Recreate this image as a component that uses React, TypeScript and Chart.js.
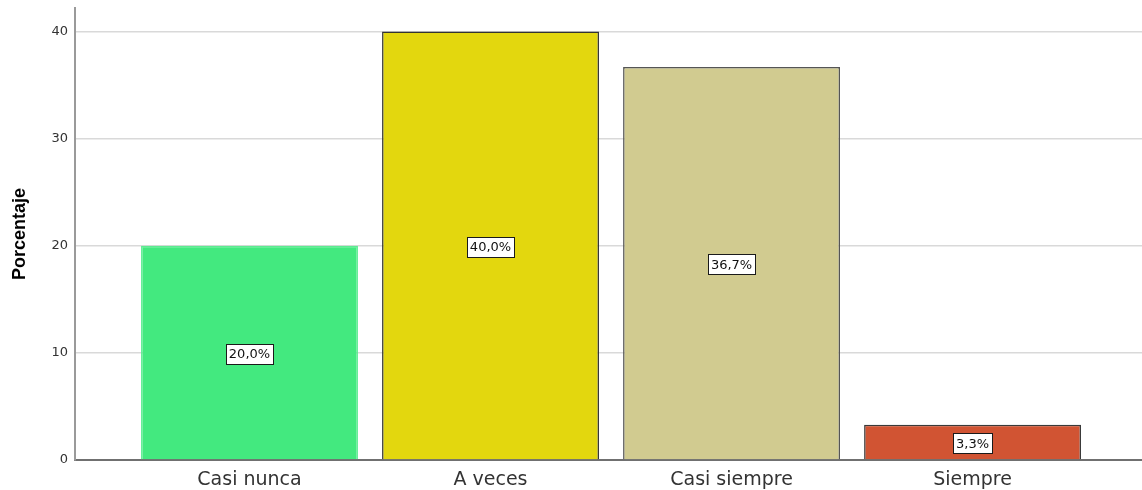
import React, { useEffect, useRef } from "react";
import { Chart, registerables } from "chart.js";

Chart.register(...registerables);

const categories = ["Casi nunca", "A veces", "Casi siempre", "Siempre"];
const percentages = [20.0, 40.0, 36.7, 3.3];
const valueLabels = ["20,0%", "40,0%", "36,7%", "3,3%"];
const barColors = ["#43E97F", "#E3D70E", "#D1CB90", "#D15433"];
const barBorderColors = ["#5CEC91", "#333333", "#555555", "#3a3a3a"];
const yTicks = [0, 10, 20, 30, 40];
const yTitle = "Porcentaje";

const labelPlugin = {
  id: "valueLabelsAndTitle",
  afterDatasetsDraw(chart: any) {
    const ctx = chart.ctx as CanvasRenderingContext2D;
    const meta = chart.getDatasetMeta(0);
    const ys = chart.scales.y;
    ctx.save();
    ctx.font = '13px "DejaVu Sans"';
    meta.data.forEach((el: any, i: number) => {
      const txt = valueLabels[i];
      const x = el.x;
      const y = ys.getPixelForValue(percentages[i] / 2) + 1;
      const w = Math.round(ctx.measureText(txt).width + 6);
      const h = 20;
      const left = Math.round(x - w / 2) + 0.5;
      const top = Math.round(y - h / 2) + 0.5;
      ctx.fillStyle = "#ffffff";
      ctx.fillRect(left, top, w, h);
      ctx.strokeStyle = "#1a1a1a";
      ctx.lineWidth = 1;
      ctx.strokeRect(left, top, w, h);
      ctx.fillStyle = "#111111";
      ctx.textAlign = "center";
      ctx.textBaseline = "middle";
      ctx.fillText(txt, x, y + 1);
    });
    ctx.restore();

    const area = chart.chartArea;
    ctx.save();
    ctx.translate(20, (area.top + area.bottom) / 2);
    ctx.rotate(-Math.PI / 2);
    ctx.font = 'bold 18px "Liberation Sans", Arial, sans-serif';
    ctx.fillStyle = "#000000";
    ctx.textAlign = "center";
    ctx.textBaseline = "middle";
    ctx.fillText(yTitle, 0, 0);
    ctx.restore();
  },
};

export default function App() {
  const canvasRef = useRef<HTMLCanvasElement | null>(null);

  useEffect(() => {
    document.body.style.margin = "0";
    const canvas = canvasRef.current;
    if (!canvas) return;
    const chart = new Chart(canvas, {
      type: "bar",
      data: {
        datasets: [
          {
            data: categories.map((_, i) => ({ x: i, y: percentages[i] })),
            backgroundColor: barColors,
            borderColor: barBorderColors,
            borderWidth: 1.5,
            categoryPercentage: 1,
            barPercentage: 0.9,
          },
        ],
      },
      options: {
        responsive: false,
        animation: false,
        devicePixelRatio: 1,
        layout: { padding: { top: 8, left: 0, right: 0, bottom: 0 } },
        plugins: {
          legend: { display: false },
          tooltip: { enabled: false },
        },
        scales: {
          x: {
            type: "linear",
            offset: false,
            min: -0.724,
            max: 3.703,
            afterBuildTicks: (scale: any) => {
              scale.ticks = categories.map((_, i) => ({ value: i }));
            },
            afterFit: (scale: any) => {
              scale.height = 30;
              scale.paddingLeft = 0;
              scale.paddingRight = 0;
            },
            grid: { display: false, drawTicks: false, offset: false },
            border: { display: true, color: "#707070", width: 2 },
            ticks: {
              autoSkip: false,
              maxRotation: 0,
              padding: 9,
              color: "#333333",
              font: { family: '"DejaVu Sans"', size: 19 },
              callback: (v: any) => categories[v as number] ?? "",
            },
          },
          y: {
            min: 0,
            max: 42.2,
            afterBuildTicks: (scale: any) => {
              scale.ticks = yTicks.map((v) => ({ value: v }));
            },
            afterFit: (scale: any) => {
              scale.width = 75;
              scale.paddingTop = 0;
              scale.paddingBottom = 0;
            },
            grid: { color: "#d9d9d9", lineWidth: 1.5, drawTicks: false },
            border: { display: true, color: "#9a9a9a", width: 2 },
            ticks: {
              padding: 7,
              color: "#333333",
              font: { family: '"DejaVu Sans"', size: 13 },
            },
          },
        },
      },
      plugins: [labelPlugin],
    });
    return () => chart.destroy();
  }, []);

  return (
    <div style={{ width: 1142, height: 490, background: "#ffffff" }}>
      <canvas ref={canvasRef} width={1142} height={490} />
    </div>
  );
}
